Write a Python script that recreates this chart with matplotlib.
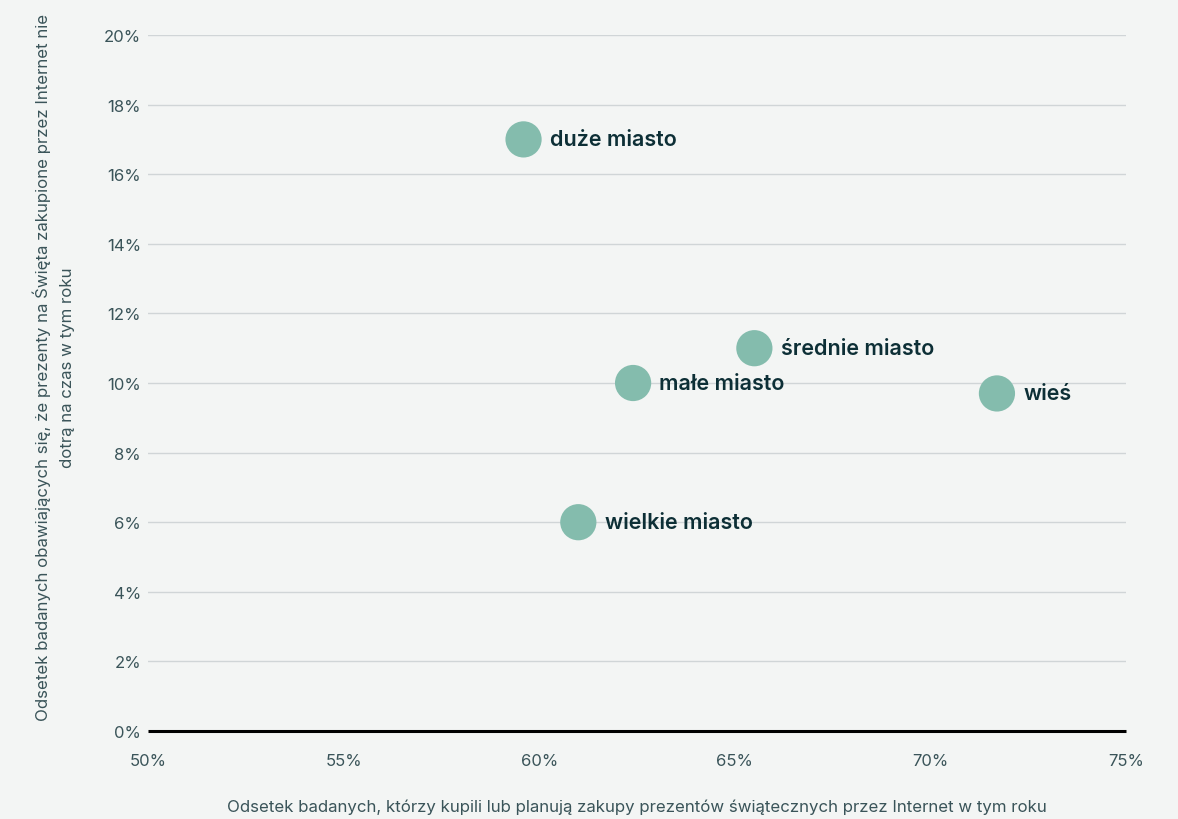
import numpy as np
import matplotlib.pyplot as plt
from matplotlib.ticker import FuncFormatter

plt.rcParams['font.family'] = ['Inter', 'DejaVu Sans']

# udział kupujących przez Internet (oś X) i obawy o spóźnione prezenty (oś Y), w %
miejscowosci = ['duże miasto', 'wielkie miasto', 'małe miasto', 'średnie miasto', 'wieś']
kupujacy = [59.6, 61.0, 62.4, 65.5, 71.7]
obawy = [17.0, 6.0, 10.0, 11.0, 9.7]

bg = '#f3f5f4'
punkt = '#84bcad'
tekst = '#0d2f36'
szary = '#3a5459'

fig = plt.figure(figsize=(11.78, 8.2), dpi=100, facecolor=bg)
ax = fig.add_axes([0.1256, 0.1073, 0.8303, 0.8488], facecolor=bg)

ax.scatter(kupujacy, obawy, s=680, color=punkt, edgecolors='none', zorder=3)
for x, y, nazwa in zip(kupujacy, obawy, miejscowosci):
    ax.annotate(nazwa, (x, y), xytext=(19, 0), textcoords='offset points',
                ha='left', va='center', fontsize=15.5, fontweight='semibold',
                color=tekst, zorder=4)

ax.set_xlim(50, 75)
ax.set_ylim(0, 20)
ax.set_xticks(np.arange(50, 76, 5))
ax.set_yticks(np.arange(0, 21, 2))
fmt = FuncFormatter(lambda v, pos: f'{v:.0f}%')
ax.xaxis.set_major_formatter(fmt)
ax.yaxis.set_major_formatter(fmt)

ax.grid(axis='y', color='#d0d5d7', linewidth=1)
ax.grid(axis='x', visible=False)
ax.set_axisbelow(True)
for s in ['top', 'right', 'left']:
    ax.spines[s].set_visible(False)
ax.spines['bottom'].set_color('#000000')
ax.spines['bottom'].set_linewidth(2.2)
ax.spines['bottom'].set_capstyle('butt')

ax.tick_params(axis='both', length=0, labelsize=12, labelcolor=szary)
ax.tick_params(axis='x', pad=16)
ax.tick_params(axis='y', pad=5)

ax.set_xlabel('Odsetek badanych, którzy kupili lub planują zakupy prezentów świątecznych przez Internet w tym roku',
              fontsize=12.1, color=szary, labelpad=22)
ax.set_ylabel('Odsetek badanych obawiających się, że prezenty na Święta zakupione przez Internet nie\ndotrą na czas w tym roku',
              fontsize=12.1, color=szary, linespacing=1.75)
ax.yaxis.set_label_coords(-0.075, 0.524)

fig.savefig('out.png', dpi=100, facecolor=bg)
